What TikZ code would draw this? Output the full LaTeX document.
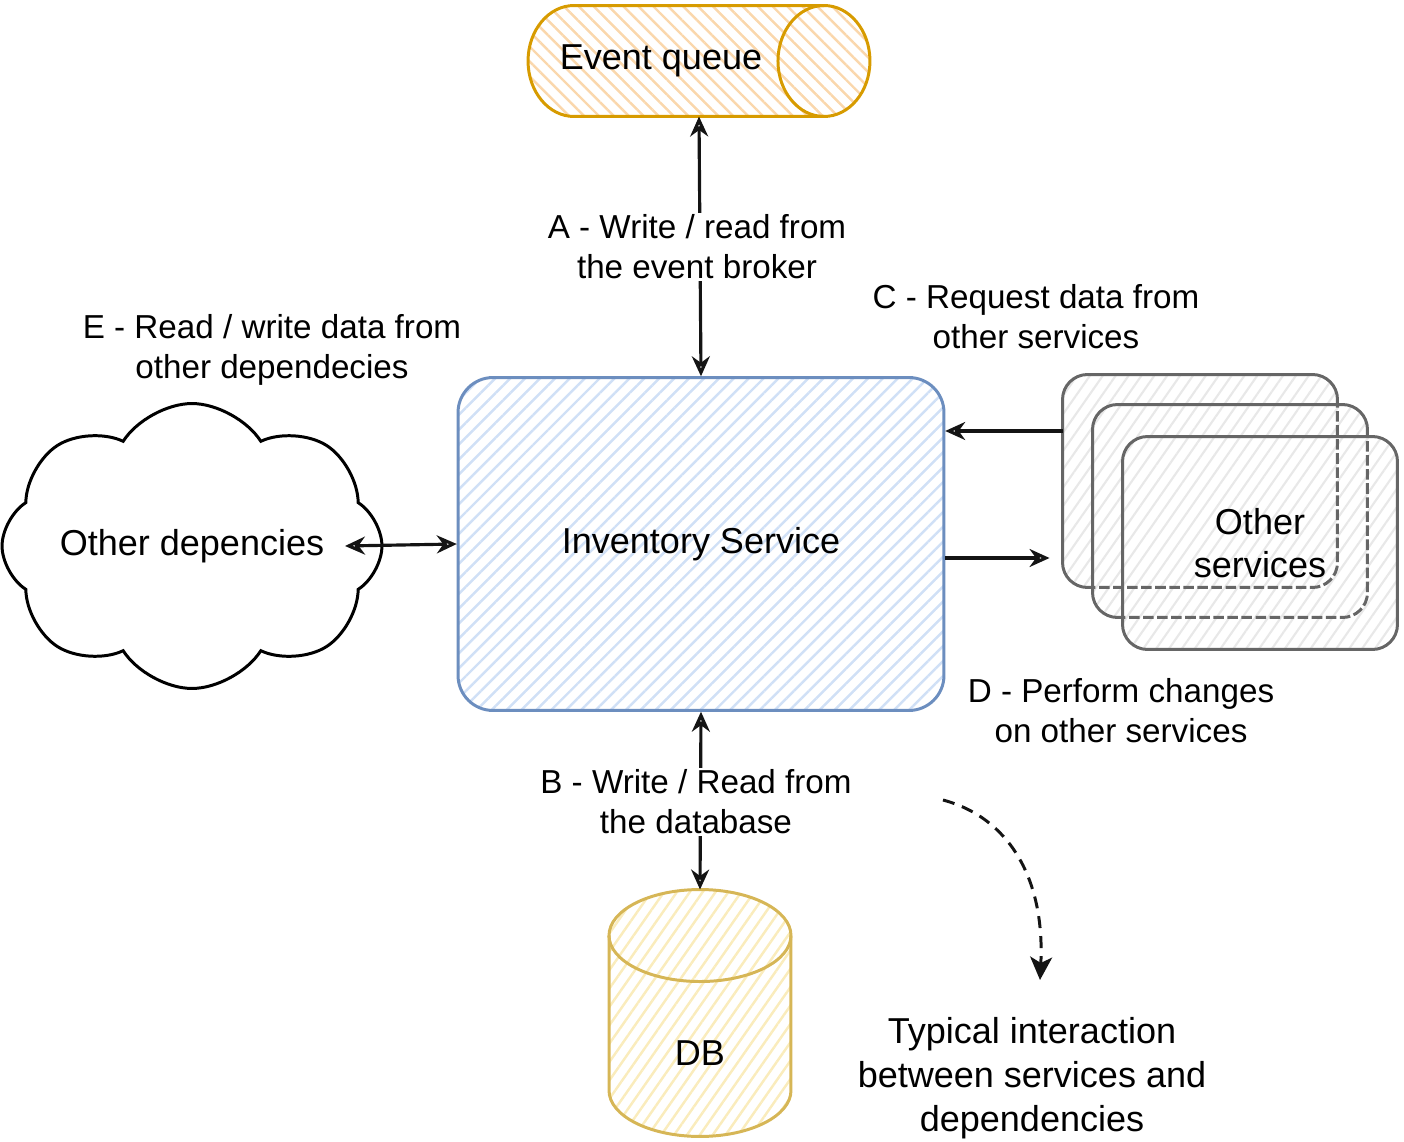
\documentclass[tikz,border=0pt]{standalone}
\usepackage{fontspec}
\setmainfont{Liberation Sans}
\usepackage{tikz}
\usetikzlibrary{arrows.meta,shapes.symbols,patterns.meta,backgrounds,
                positioning,calc}
\definecolor{svcblue}{HTML}{6C8EBF}
\definecolor{hatchblue}{RGB}{208,224,246}
\definecolor{queueorange}{HTML}{D79B00}
\definecolor{hatchorange}{RGB}{250,215,172}
\definecolor{dbyellow}{HTML}{D6B656}
\definecolor{hatchyellow}{RGB}{250,236,188}
\definecolor{stackgray}{HTML}{666666}
\definecolor{hatchgray}{RGB}{232,232,232}
\definecolor{arrowblack}{RGB}{20,20,20}

\begin{document}
\begin{tikzpicture}[
  x=0.02cm, y=-0.02cm,
  big/.style={font=\fontsize{20.5}{24.5}\selectfont, align=center},
  lbl/.style={font=\fontsize{18.9}{22.8}\selectfont, align=center,
              fill=white, inner sep=1pt},
  service/.style={big, rectangle, rounded corners=0.7cm, draw=svcblue,
              line width=1.7pt, minimum width=9.72cm, minimum height=6.66cm,
              pattern={Lines[angle=45,distance=6pt,line width=1.4pt]},
              pattern color=hatchblue},
  queuebox/.style={big, rectangle, outer sep=0pt,
              minimum width=6.84cm, minimum height=2.22cm},
  queuepaint/.style={draw=queueorange, line width=1.7pt,
              pattern={Lines[angle=-45,distance=6pt,line width=1.4pt]},
              pattern color=hatchorange},
  storebox/.style={big, rectangle, outer sep=0pt,
              minimum width=3.64cm, minimum height=4.94cm},
  storepaint/.style={draw=dbyellow, line width=1.7pt,
              pattern={Lines[angle=55,distance=6pt,line width=1.4pt]},
              pattern color=hatchyellow},
  deps/.style={big, cloud, cloud puffs=8, cloud puff arc=115, aspect=1.35,
              draw=black, line width=1.7pt, inner xsep=-0.9cm, inner ysep=0pt,
              minimum width=7.6cm, minimum height=5.7cm},
  stack/.style={big, rectangle, rounded corners=0.5cm, draw=stackgray,
              line width=1.7pt, outer sep=0pt,
              minimum width=5.5cm, minimum height=4.26cm,
              preaction={fill=white},
              pattern={Lines[angle=55,distance=6pt,line width=1.2pt]},
              pattern color=hatchgray},
  hidden/.style={draw=stackgray, line width=1.7pt, rounded corners=0.5cm,
              dash pattern=on 6pt off 2pt},
  arr/.style={-{Stealth[open,length=0.4cm,width=0.36cm]},
              draw=arrowblack, line width=1.8pt},
  biarr/.style={arr, {Stealth[open,length=0.4cm,width=0.36cm]}-{Stealth[open,length=0.4cm,width=0.36cm]}},
  hint/.style={-{Stealth[length=0.46cm,width=0.44cm,inset=0.12cm]},
              draw=arrowblack, line width=1.7pt, dash pattern=on 0.24cm off 0.16cm},
]
\useasboundingbox (0,0) rectangle (1404,1142);

% Main service and its neighbours
\node[service]  (inv)   at (701,544) {Inventory Service};
\node[queuebox] (queue) at (699,61)  {\hspace*{-1.52cm}Event queue};
\node[storebox] (db)    at (700,1013) {\rule{0pt}{2.1cm}DB};
\node[deps]     (cloud) at (192,546) {Other depencies};

% Cylinders behind their texts
\begin{scope}[on background layer]
  \path[queuepaint] ($(queue.north west)+(46,0)$) -- ($(queue.north east)+(-46,0)$)
    arc[start angle=90, end angle=-90, x radius=0.92cm, y radius=1.11cm]
    -- ($(queue.south west)+(46,0)$)
    arc[start angle=270, end angle=90, x radius=0.92cm, y radius=1.11cm] -- cycle;
  \draw[queuepaint, pattern=none] ($(queue.north east)+(-46,0)$)
    arc[start angle=90, end angle=270, x radius=0.92cm, y radius=1.11cm];
  \path[storepaint] ($(db.north west)+(0,46)$) -- ($(db.south west)+(0,-46)$)
    arc[start angle=180, end angle=360, x radius=1.82cm, y radius=0.92cm]
    -- ($(db.north east)+(0,46)$)
    arc[start angle=0, end angle=180, x radius=1.82cm, y radius=0.92cm] -- cycle;
  \draw[storepaint, pattern=none] ($(db.north west)+(0,46)$)
    arc[start angle=180, end angle=360, x radius=1.82cm, y radius=0.92cm];
\end{scope}

% Stack of other services (back to front)
\node[stack] (svc1) at (1200,481) {};
\node[stack] (svc2) at (1230,511) {};
\begin{scope}
  \clip[rounded corners=0.5cm] (svc2.south west) rectangle (svc2.north east);
  \draw[hidden] (svc1.south west) rectangle (svc1.north east);
\end{scope}
\node[stack] (svc3) at (1260,543) {Other\\services};
\begin{scope}
  \clip[rounded corners=0.5cm] (svc3.south west) rectangle (svc3.north east);
  \draw[hidden] (svc1.south west) rectangle (svc1.north east);
  \draw[hidden] (svc2.south west) rectangle (svc2.north east);
\end{scope}

% Arrows
\coordinate (rowc) at (0,431);
\coordinate (rowd) at (0,558);
\draw[biarr] (queue.south) -- (inv.north);
\draw[biarr] (inv.south) -- (db.north);
\draw[biarr] ($(cloud.center)+(153,0)$) -- (inv.west);
\draw[arr] (svc1.west |- rowc) -- (inv.east |- rowc);
\draw[arr, shorten >=0.26cm] (inv.east |- rowd) -- (svc1.west |- rowd);

% Labels
\node[lbl] (la) at (697,247) {A - Write / read from\\the event broker};
\node[lbl] (lb) at (696,802) {B - Write / Read from\\the database};
\node[lbl] (lc) at (1036,317) {C - Request data from\\other services};
\node[lbl] (ld) at (1121,711) {D - Perform changes\\on other services};
\node[lbl] (le) at (272,350) {E - Read / write data from\\other dependecies};

% Legend
\coordinate (hs) at (943,800);
\coordinate (he) at (1040,980);
\draw[hint] (hs) .. controls (1010,818) and (1045,880) .. (he);
\node[big, font=\fontsize{20.5}{25.2}\selectfont] (note) at (1032,1078)
  {Typical interaction\\between services and\\dependencies};
\end{tikzpicture}
\end{document}
